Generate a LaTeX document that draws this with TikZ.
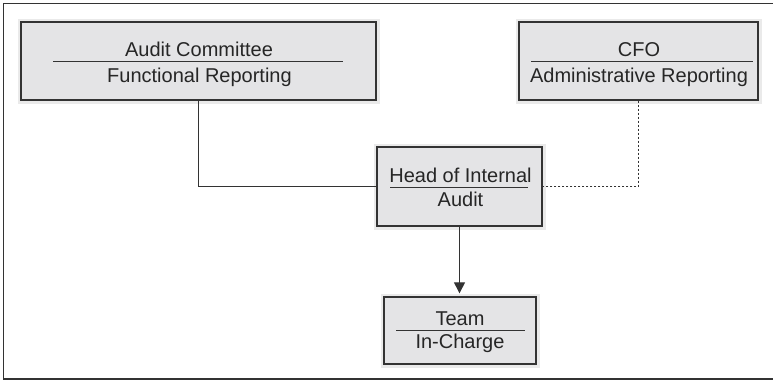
\documentclass[tikz,border=0pt]{standalone}
\usepackage{fontspec}
\setmainfont{Liberation Sans}
\usetikzlibrary{arrows.meta}
\definecolor{boxfill}{HTML}{E4E4E6}
\definecolor{halo}{HTML}{EAEAEA}
\definecolor{ink}{HTML}{333333}
\definecolor{txt}{HTML}{262626}
\begin{document}
\begin{tikzpicture}[x=1pt,y=-1pt,
  orgbox/.style={rectangle, draw=ink, line width=1.3pt, fill=boxfill,
    preaction={draw=halo, line width=7pt}, inner sep=0pt},
  lbl/.style={font=\fontsize{20}{24}\selectfont, text=txt, inner sep=0pt, anchor=base},
  divider/.style={draw=ink, line width=0.9pt},
  link/.style={draw=ink, line width=1pt},
  dotted link/.style={link, dash pattern=on 2.5pt off 1.5pt}]
\useasboundingbox (0,0) rectangle (773,381);

% outer frame (open on the right)
\draw[ink, line width=1.3pt] (780,3.5) -- (3.5,3.5) -- (3.5,379) -- (780,379);

% boxes
\node[orgbox, minimum width=355pt, minimum height=78pt] (ac) at (198.5,61) {};
\node[orgbox, minimum width=239pt, minimum height=78pt] (cfo) at (638.5,61) {};
\node[orgbox, minimum width=165pt, minimum height=79pt] (head) at (459.5,186.5) {};
\node[orgbox, minimum width=152pt, minimum height=67pt] (team) at (460,330.5) {};

% Audit Committee
\node[lbl] (acT) at (199,56) {Audit Committee};
\node[lbl] (acB) at (199.5,82) {Functional Reporting};
\draw[divider] (53,61) -- (343,61);

% CFO
\node[lbl] (cfoT) at (639,56) {CFO};
\node[lbl] (cfoB) at (639,82) {Administrative Reporting};
\draw[divider] (531,61) -- (753,61);

% Head of Internal Audit
\node[lbl] (headT) at (460.5,182) {Head of Internal};
\node[lbl] (headB) at (460.5,206) {Audit};
\draw[divider] (390,187) -- (528,187);

% Team In-Charge
\node[lbl] (teamT) at (460,325) {Team};
\node[lbl] (teamB) at (460,348) {In-Charge};
\draw[divider] (396,330) -- (525,330);

% reporting lines
\draw[link] (ac.south) |- (head.west);
\draw[dotted link] (cfo.south) |- (head.east);
\draw[link, -{Triangle[length=11pt, width=11pt]}, shorten >=3pt]
  (head.south) -- (head.south |- team.north);
\end{tikzpicture}
\end{document}
